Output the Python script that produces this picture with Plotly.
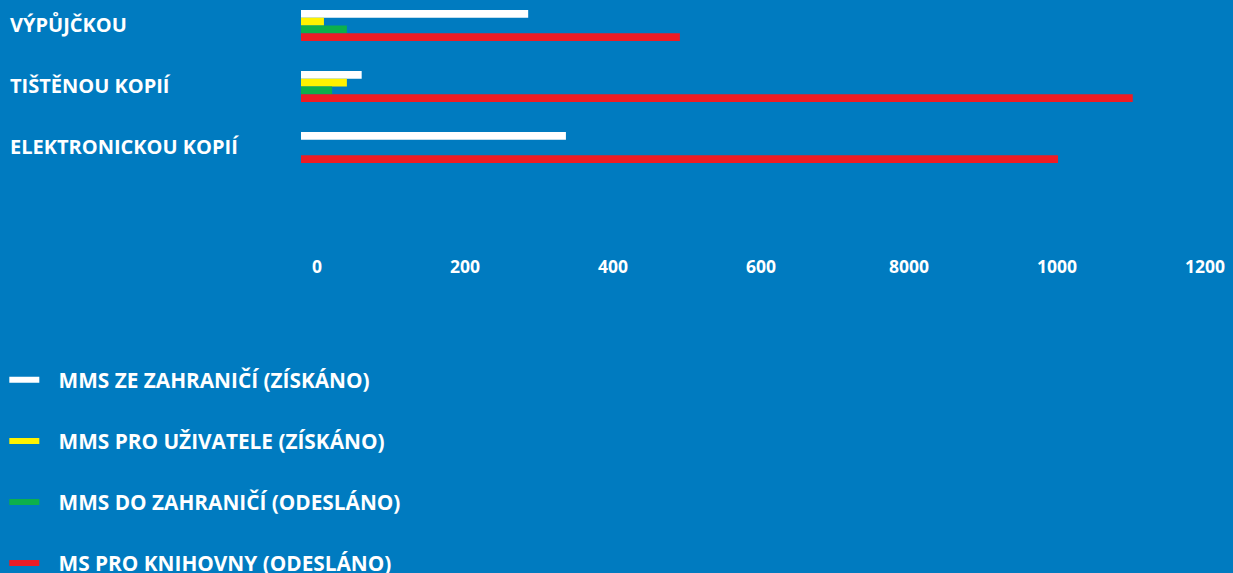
import plotly.graph_objects as go

categories = ["VÝPŮJČKOU", "TIŠTĚNOU KOPIÍ", "ELEKTRONICKOU KOPIÍ"]
series_names = [
    "MMS ZE ZAHRANIČÍ (ZÍSKÁNO)",
    "MMS PRO UŽIVATELE (ZÍSKÁNO)",
    "MMS DO ZAHRANIČÍ (ODESLÁNO)",
    "MS PRO KNIHOVNY (ODESLÁNO)",
]
mms_ze_zahranici = [307, 82, 358]
mms_pro_uzivatele = [31, 62, 0]
mms_do_zahranici = [62, 42, 0]
ms_pro_knihovny = [512, 1124, 1023]
series_values = [mms_ze_zahranici, mms_pro_uzivatele, mms_do_zahranici, ms_pro_knihovny]
colors = ["#FFFFFF", "#FFF200", "#0DB04B", "#ED1C24"]

tick_vals = [0, 200, 400, 600, 800, 1000, 1200]
tick_text = ["0", "200", "400", "600", "8000", "1000", "1200"]

BG = "#007BC0"
FONT = "Open Sans"

fig = go.Figure()
for name, vals, col in zip(series_names, series_values, colors):
    fig.add_trace(go.Bar(
        y=categories, x=vals, orientation="h", name=name,
        marker=dict(color=col, line=dict(width=0)),
        showlegend=False, hoverinfo="x+name",
    ))
for i, (name, col) in enumerate(zip(series_names, colors)):
    fig.add_trace(go.Scatter(
        x=[None], y=[None], mode="lines", name="\u00a0\u00a0\u2009" + name,
        line=dict(color=col, width=6), legendgroup=f"g{i}",
    ))

for c in categories:
    fig.add_annotation(
        x=0, xref="paper", y=c, yref="y", xanchor="left", xshift=-293, yshift=1,
        text=c, showarrow=False,
        font=dict(family=FONT, size=20, color="white", weight="bold"),
    )

fig.update_layout(
    width=1233, height=573,
    paper_bgcolor=BG, plot_bgcolor=BG,
    margin=dict(l=301, r=7, t=0, b=323, autoexpand=False),
    barmode="group", bargap=0.49, bargroupgap=0,
    xaxis=dict(
        range=[0, 1250], tickvals=tick_vals, ticktext=tick_text,
        showgrid=False, zeroline=False, showline=False, ticks="",
        ticklabelshift=16, ticklabelstandoff=4,
        tickfont=dict(family=FONT, size=17.5, color="white", weight="bold"),
    ),
    yaxis=dict(
        type="category", categoryorder="array", categoryarray=categories,
        range=[3.68, -0.418], showticklabels=False,
        showgrid=False, zeroline=False, showline=False, ticks="",
    ),
    legend=dict(
        xref="container", yref="container", x=0.0035, y=0.372,
        xanchor="left", yanchor="top",
        font=dict(family=FONT, size=20.8, color="white", weight="bold"),
        tracegroupgap=31, itemwidth=30, bgcolor="rgba(0,0,0,0)",
    ),
    showlegend=True,
)

fig.write_html(
    "out.html",
    config={"displayModeBar": False},
    post_script="document.body.style.margin='0';document.body.style.background='" + BG + "';",
)
